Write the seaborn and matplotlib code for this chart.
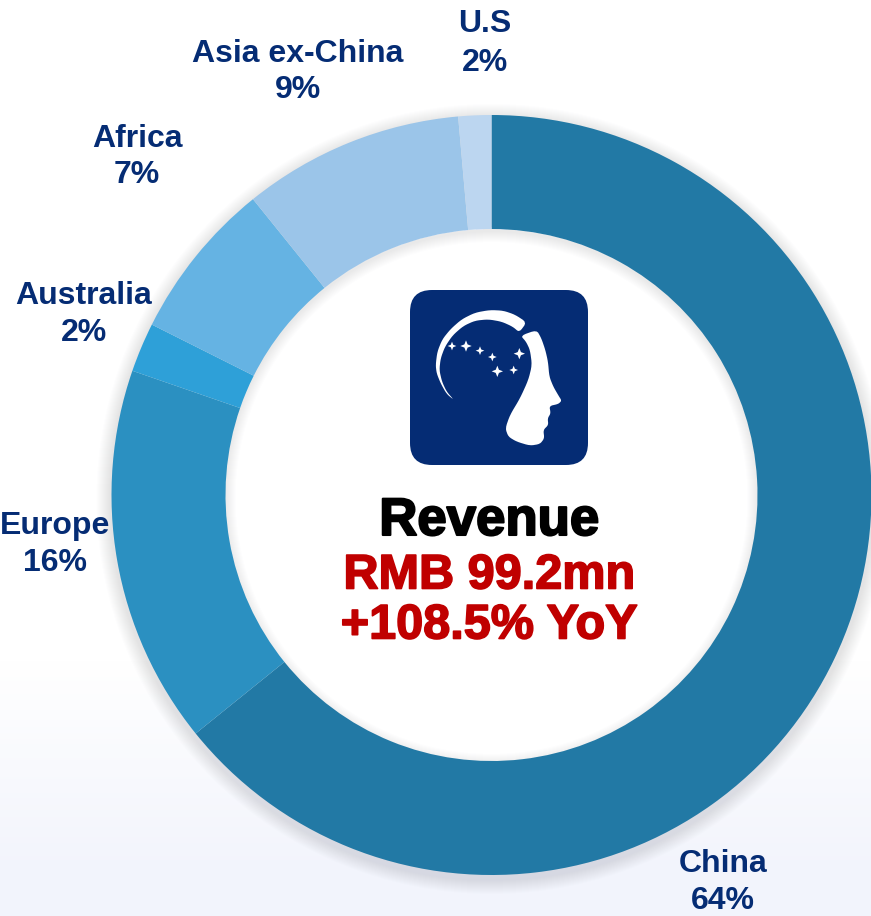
import numpy as np
import matplotlib
matplotlib.use('Agg')
import matplotlib.pyplot as plt
import matplotlib.patheffects as pe
from matplotlib.colors import LinearSegmentedColormap
from matplotlib.patches import Circle, FancyBboxPatch, Polygon, Wedge
import seaborn as sns

regions = ['China', 'Europe', 'Australia', 'Africa', 'Asia ex-China', 'U.S']
shares = [64.2, 16.1, 2.1, 6.8, 9.4, 1.4]
share_labels = ['64%', '16%', '2%', '7%', '9%', '2%']
colors = ['#2279A5', '#2B90C1', '#2EA0D8', '#65B3E3', '#9BC5E9', '#BCD6F0']

W, H = 871, 916
NAVY = '#052C74'
RED = '#C00000'

sns.set_theme(style='white')
plt.rcParams['font.family'] = ['Liberation Sans', 'DejaVu Sans']

fig = plt.figure(figsize=(W / 100, H / 100), dpi=100)
ax = fig.add_axes([0, 0, 1, 1])


def py(y):
    # picture y (from the top) to axes y
    return H - y


# background fades to light lavender at the bottom
bg = np.ones((H, 1))
bg[:, 0] = np.clip((np.arange(H) - 660) / (H - 660 - 40), 0, 1)
cmap = LinearSegmentedColormap.from_list('bg', ['#FFFFFF', '#F2F4FC'])
ax.imshow(bg, extent=(0, W, 0, H), cmap=cmap, aspect='auto', zorder=0, vmin=0, vmax=1)

cx, cy, R, r = 491.5, py(495), 380, 266

# soft shadow round the ring
for k in range(1, 15):
    ax.add_patch(Circle((cx, cy - 4), R + 16 - k, color='#6B7A90', alpha=0.012, lw=0, zorder=1))

# hole, with a soft shadow on its rim
ax.add_patch(Circle((cx, cy), r + 2, color='white', lw=0, zorder=3))
for k in range(1, 12):
    ax.add_patch(Wedge((cx, cy - 3), r + 3, 0, 360, width=k + 2, color='#5F6E85', alpha=0.012,
                       lw=0, zorder=3.1))
ax.pie(shares, colors=colors, startangle=90, counterclock=False, center=(cx, cy), radius=R,
       wedgeprops=dict(width=R - r, linewidth=0, zorder=4), frame=True)

ax.set_xlim(0, W)
ax.set_ylim(0, H)
ax.axis('off')

# region labels
label_pos = {
    'China': (723, 861, 898),
    'Europe': (55, 523, 560),
    'Australia': (84, 293, 330),
    'Africa': (137, 136, 172),
    'Asia ex-China': (298, 51, 87),
    'U.S': (485, 21, 60),
}
for name, pct in zip(regions, share_labels):
    x, y1, y2 = label_pos[name]
    ax.text(x, py(y1 + 3), name, color=NAVY, fontsize=23, fontweight='bold', ha='center', va='center', zorder=6)
    ax.text(x, py(y2 + 3), pct, color=NAVY, fontsize=23, fontweight='bold', ha='center', va='center', zorder=6)

# centre text
ax.text(489, py(521), 'Revenue', color='black', fontsize=38, fontweight='bold', ha='center', va='center',
        zorder=6, path_effects=[pe.withStroke(linewidth=1.5, foreground='black')])
for txt, y in [('RMB 99.2mn', 576), ('+108.5% YoY', 626)]:
    ax.text(489, py(y), txt, color=RED, fontsize=35, fontweight='bold', ha='center', va='center',
            zorder=6, path_effects=[pe.withStroke(linewidth=1.2, foreground=RED)])

# logo
ax.add_patch(FancyBboxPatch((410 + 22, py(465) + 22), 178 - 44, 175 - 44,
                            boxstyle='round,pad=22,rounding_size=22', fc=NAVY, ec='none', zorder=6))


def logo(pts, smooth=0):
    # points read in the zoomed crop (3x, origin 380,270)
    p = np.array(pts, dtype=float)
    for _ in range(smooth):
        # corner cutting, keeps the outline from looking faceted
        nxt = np.roll(p, -1, axis=0)
        p = np.column_stack([0.8 * p + 0.2 * nxt, 0.2 * p + 0.8 * nxt]).reshape(-1, 2)
    return [(380 + px / 3, py(270 + qy / 3)) for px, qy in p]


arc = [(222, 390), (200, 372), (182, 340), (170, 310), (167, 285), (172, 245), (187, 208), (212, 177),
       (245, 148), (285, 128), (330, 120), (370, 122), (405, 134), (440, 157), (418, 187), (398, 170),
       (365, 155), (325, 148), (285, 152), (250, 168), (218, 196), (195, 230), (182, 265), (178, 300),
       (186, 335), (200, 365)]
head = [(422, 197), (470, 180), (484, 205), (496, 240), (504, 275), (508, 320), (520, 350), (535, 376),
        (545, 392), (535, 402), (508, 408), (512, 430), (503, 445), (505, 465), (490, 480), (493, 505),
        (480, 522), (450, 527), (410, 515), (385, 500), (376, 475), (390, 435), (420, 385), (445, 330),
        (456, 285), (450, 240), (438, 215)]
ax.add_patch(Polygon(logo(arc, 2), fc='white', ec='none', zorder=7))
ax.add_patch(Polygon(logo(head, 2), fc='white', ec='none', zorder=7))

stars = [(216, 228, 13), (258, 228, 17), (300, 242, 13), (337, 261, 13), (418, 251, 17), (352, 304, 17), (401, 300, 13)]
for sx, sy, s in stars:
    q = s * 0.28
    pts = [(sx, sy - s), (sx + q, sy - q), (sx + s, sy), (sx + q, sy + q),
           (sx, sy + s), (sx - q, sy + q), (sx - s, sy), (sx - q, sy - q)]
    ax.add_patch(Polygon(logo(pts), fc='white', ec='none', zorder=8))

fig.savefig('out.png', dpi=100)
